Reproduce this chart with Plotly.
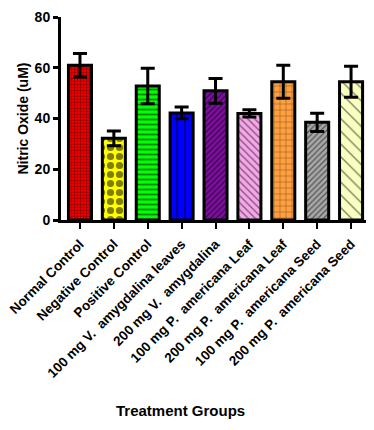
import plotly.graph_objects as go

NB = "\u00a0"
categories = ["Normal Control", "Negative Control", "Positive Control",
              "100 mg V." + NB + NB + "amygdalina leaves",
              "200 mg V." + NB + NB + "amygdalina",
              "100 mg P." + NB + NB + "americana Leaf",
              "200 mg P." + NB + NB + "americana Leaf",
              "100 mg P." + NB + NB + "americana Seed",
              "200 mg P." + NB + NB + "americana Seed"]
means = [61.0, 32.2, 52.8, 42.2, 50.9, 42.0, 54.5, 38.5, 54.5]
errors = [4.6, 2.9, 7.0, 2.3, 4.9, 1.4, 6.5, 3.6, 6.1]
colors = ["#ff0000", "#ffff00", "#00ff00", "#0000ff", "#7f0fa0",
          "#f4a6e8", "#ffa040", "#a8a8a8", "#f8ffc0"]
shapes = [".", ".", "-", "|", "/", "\\", "+", "/", "\\"]
sizes = [3, 9, 5, 8, 4, 5, 6, 4, 9]
solid = [0.45, 0.5, 0.35, 0.2, 0.35, 0.25, 0.15, 0.3, 0.15]

font_family = "Liberation Sans, Arial, sans-serif"

fig = go.Figure()
for i, c in enumerate(categories):
    fig.add_trace(go.Bar(
        x=[c], y=[means[i]],
        width=0.68,
        marker=dict(color=colors[i],
                    line=dict(color="black", width=3),
                    pattern=dict(shape=shapes[i], fgcolor="black",
                                 bgcolor=colors[i], size=sizes[i],
                                 solidity=solid[i])),
        error_y=dict(type="data", array=[errors[i]], visible=True,
                     color="black", thickness=3, width=7),
        showlegend=False,
    ))

# page body has an 8px default margin, so the figure is sized to fit the window
fig.update_layout(
    width=366, height=422,
    margin=dict(l=53, r=6, t=9, b=210),
    plot_bgcolor="white", paper_bgcolor="white",
    font=dict(family=font_family, color="black"),
    xaxis=dict(
        type="category", categoryorder="array", categoryarray=categories,
        range=[-0.56, 8.5], automargin=False,
        showline=True, linecolor="black", linewidth=3,
        ticks="outside", ticklen=6, tickwidth=2, tickcolor="black",
        tickangle=-45, ticklabelstandoff=2,
        tickfont=dict(family=font_family, size=13.5, color="black", weight="bold"),
        showgrid=False, zeroline=False,
    ),
    yaxis=dict(
        range=[0, 80], tickvals=[0, 20, 40, 60, 80], automargin=False,
        showline=True, linecolor="black", linewidth=3,
        ticks="outside", ticklen=5, tickwidth=3, tickcolor="black",
        tickfont=dict(family=font_family, size=14, color="black", weight="bold"),
        showgrid=False, zeroline=False,
    ),
    annotations=[
        dict(text="<b>Nitric Oxide (uM)</b>", xref="paper", yref="paper",
             x=-0.127, y=0.5, textangle=-90, showarrow=False,
             xanchor="center", yanchor="middle",
             font=dict(family=font_family, size=14, color="black")),
        dict(text="<b>Treatment Groups</b>", xref="paper", yref="paper",
             x=0.388, y=-0.936, showarrow=False,
             xanchor="center", yanchor="middle",
             font=dict(family=font_family, size=15, color="black")),
    ],
)

fig.write_html("out.html")
